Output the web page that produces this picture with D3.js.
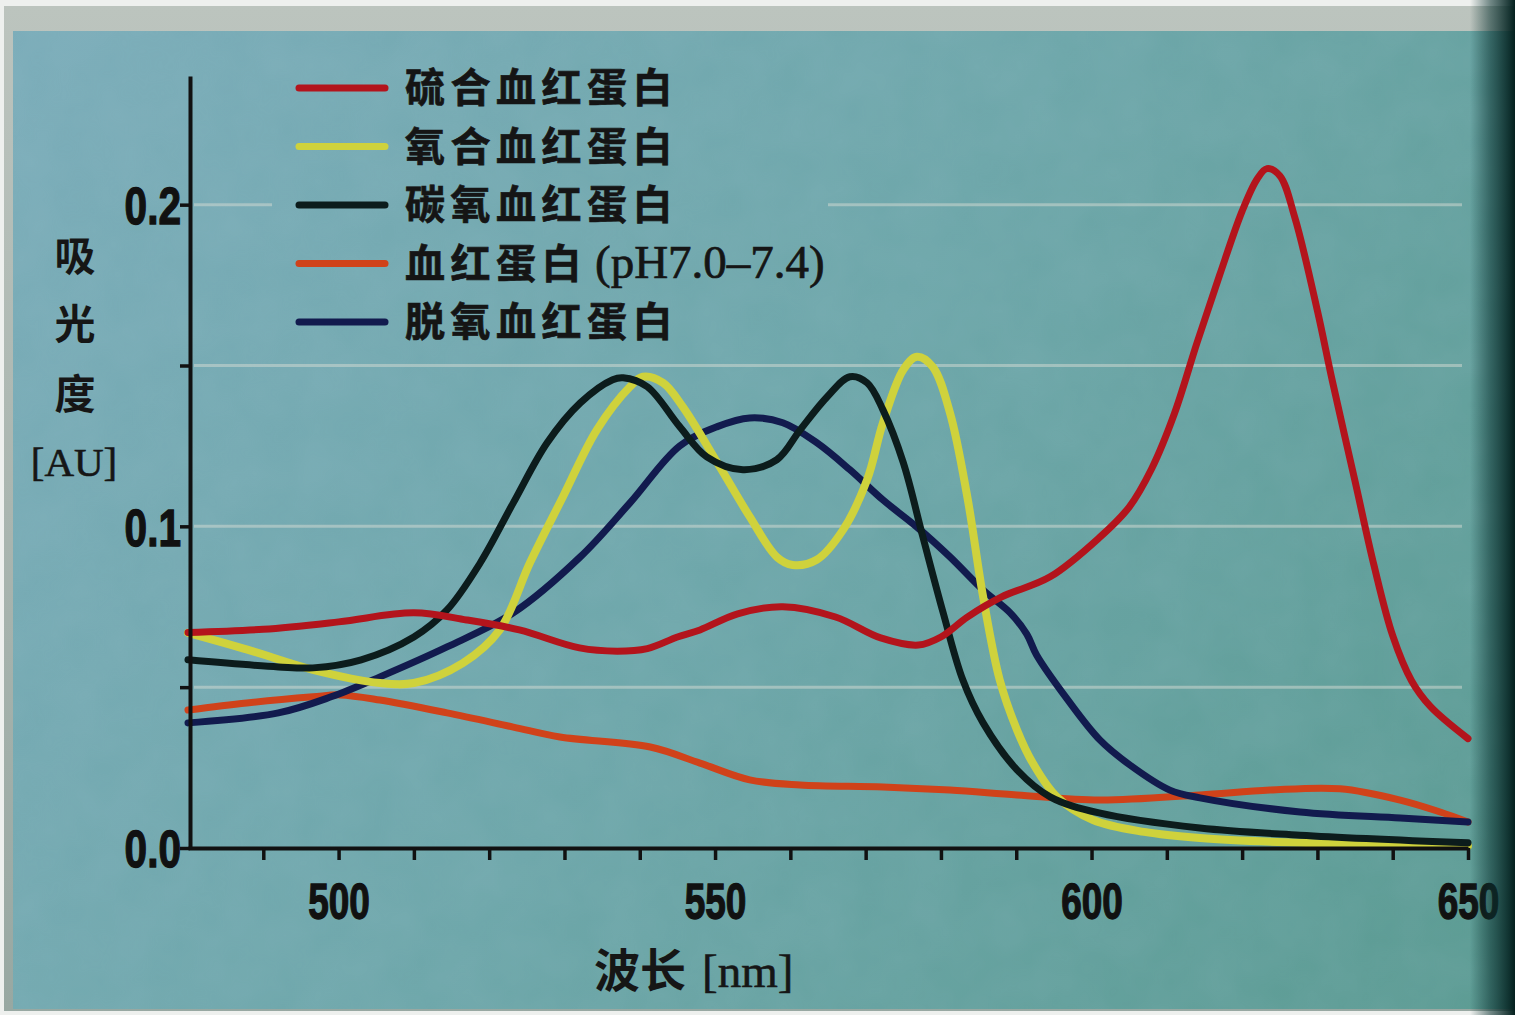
<!DOCTYPE html>
<html>
<head>
<meta charset="utf-8">
<script src="https://cdn.jsdelivr.net/npm/d3@7"></script>
<style>
  body { margin: 0; background: #eef0ee; }
  svg { display: block; }
</style>
</head>
<body>
<svg id="chart" width="1515" height="1015"></svg>
<script>
// Absorption spectra of hemoglobin species: wavelength (nm) / absorbance (AU)
const sulfNm  = [480,490,500,510,517,524,532,537,541,545,548,553,559,566,572,577,580,583.5,588,594.5,601,605,608,611,614,617,620,622,623.3,625,627,630,632,635,637.5,640,642.5,645,650];
const sulfAbs = [0.067,0.068,0.0703,0.0731,0.0709,0.0678,0.0622,0.0612,0.062,0.0656,0.0678,0.0728,0.075,0.0718,0.0653,0.0631,0.0656,0.0718,0.078,0.0843,0.0964,0.106,0.118,0.135,0.157,0.178,0.198,0.208,0.2112,0.209,0.196,0.167,0.145,0.114,0.088,0.066,0.052,0.044,0.034];

const oxyNm  = [480,488,496.6,505.5,510,516.5,521.4,525.4,529.8,534.3,538.7,540.4,543.1,545.7,550.3,554.6,558.2,560.3,563.5,567,570.2,572.3,575,576.8,578.9,581.2,583.5,585.6,587.8,590.1,592.2,595.4,600.2,607,614.4,627.7,650];
const oxyAbs = [0.0669,0.0616,0.0554,0.0513,0.0513,0.0575,0.0678,0.0886,0.1092,0.130,0.1434,0.1465,0.1446,0.1372,0.1198,0.103,0.0905,0.088,0.0896,0.0989,0.1145,0.1322,0.1487,0.1527,0.1496,0.1353,0.1092,0.0781,0.0523,0.0367,0.0264,0.0159,0.0087,0.005,0.0031,0.0016,0.0006];

const coNm  = [480,492,496.6,503,510,514.4,518.8,523.2,527.7,532.1,536.4,537.8,541,545.3,548.9,553.7,558.2,561.3,564.9,567.9,570.2,572.3,575,577.6,580.3,582.9,585.6,590.1,594.5,601,614.4,627.7,650];
const coAbs = [0.0585,0.0563,0.056,0.0585,0.0656,0.074,0.0886,0.1073,0.126,0.1384,0.1456,0.1462,0.1434,0.131,0.1216,0.1176,0.1207,0.130,0.1403,0.1465,0.1446,0.1362,0.1198,0.0967,0.0731,0.0523,0.0389,0.0243,0.0159,0.0109,0.0062,0.004,0.0016];

const hbNm  = [480,487.8,496.6,500.2,505.5,514.4,523.2,529.4,541.4,548,554.6,561.3,572.3,581.2,590.1,601.1,614.4,623.7,633,641,646.3,650];
const hbAbs = [0.0429,0.0451,0.047,0.0476,0.046,0.042,0.0376,0.0345,0.0314,0.0264,0.0212,0.0196,0.019,0.018,0.0165,0.0149,0.0165,0.018,0.0184,0.0149,0.0112,0.0081];

const deoxyNm  = [480,492,499,505.5,514.4,523.2,532.1,538.7,545.3,550.3,554.6,559,563.5,567.9,572.3,576.8,581.2,585.6,589.2,591.4,592.7,596.7,601.1,605.1,610.4,614.4,627.7,641,650];
const deoxyAbs = [0.0389,0.042,0.047,0.0532,0.0625,0.0731,0.0905,0.1073,0.125,0.131,0.1337,0.1322,0.126,0.1176,0.1082,0.0998,0.0905,0.0802,0.0731,0.0665,0.060,0.0465,0.0336,0.0258,0.018,0.0156,0.0112,0.0093,0.0081];

// Legend entries (top to bottom)
const legendNames  = ["硫合血红蛋白", "氧合血红蛋白", "碳氧血红蛋白", "血红蛋白", "脱氧血红蛋白"];
const legendSuffix = ["", "", "", "(pH7.0–7.4)", ""];
const seriesColors = ["#b3141c", "#cfd23c", "#0c1c1c", "#d0421a", "#121b4e"];

// Axis ticks
const xTickValues = [490, 500, 510, 520, 530, 540, 550, 560, 570, 580, 590, 600, 610, 620, 630, 640, 650];
const xTickLabels = [500, 550, 600, 650];
const yTickValues = [0, 0.05, 0.1, 0.15, 0.2];
const yTickLabels = [0, 0.1, 0.2];
const gridValues  = [0.05, 0.1, 0.15, 0.2];

const W = 1515, H = 1015;
const svg = d3.select("#chart");

const x = d3.scaleLinear().domain([480, 650]).range([188, 1468]);
const y = d3.scaleLinear().domain([0, 0.24]).range([848, 76]);

// ---- paper background ----
const defs = svg.append("defs");
const bg = defs.append("linearGradient").attr("id", "paper")
  .attr("gradientUnits", "userSpaceOnUse")
  .attr("x1", 0).attr("y1", 0).attr("x2", W).attr("y2", H);
bg.append("stop").attr("offset", 0).attr("stop-color", "#7cadba");
bg.append("stop").attr("offset", 0.5).attr("stop-color", "#6ea7aa");
bg.append("stop").attr("offset", 1).attr("stop-color", "#5b9b92");

const shade = defs.append("linearGradient").attr("id", "edge")
  .attr("x1", 0).attr("y1", 0).attr("x2", 1).attr("y2", 0);
shade.append("stop").attr("offset", 0).attr("stop-color", "#0b3331").attr("stop-opacity", 0);
shade.append("stop").attr("offset", 0.45).attr("stop-color", "#0b3331").attr("stop-opacity", 0.55);
shade.append("stop").attr("offset", 1).attr("stop-color", "#04201e").attr("stop-opacity", 1);

const frame = defs.append("linearGradient").attr("id", "frame")
  .attr("x1", 0).attr("y1", 0).attr("x2", 0).attr("y2", 1);
frame.append("stop").attr("offset", 0).attr("stop-color", "#bcc4be");
frame.append("stop").attr("offset", 1).attr("stop-color", "#98a8a2");

const grain = defs.append("filter").attr("id", "grain")
  .attr("x", 0).attr("y", 0).attr("width", "100%").attr("height", "100%");
grain.append("feTurbulence").attr("type", "fractalNoise")
  .attr("baseFrequency", "0.02").attr("numOctaves", 3).attr("seed", 7);
grain.append("feColorMatrix").attr("type", "matrix")
  .attr("values", "0 0 0 0 0.45  0 0 0 0 0.62  0 0 0 0 0.72  0 0 0 0.35 -0.05");

svg.append("rect").attr("x", 4).attr("y", 6).attr("width", W - 4).attr("height", H - 10)
  .attr("fill", "url(#frame)");
svg.append("rect").attr("x", 13).attr("y", 31).attr("width", W - 13).attr("height", H - 37)
  .attr("fill", "url(#paper)");
svg.append("rect").attr("x", 13).attr("y", 31).attr("width", W - 13).attr("height", H - 37)
  .attr("filter", "url(#grain)").attr("opacity", 0.35);

// ---- grid lines ----
svg.append("g").selectAll("line").data(gridValues).join("line")
  .attr("x1", x(480) + 6).attr("x2", x(650) - 6)
  .attr("y1", d => y(d)).attr("y2", d => y(d))
  .attr("stroke", "#d6dcd4").attr("stroke-opacity", 0.5).attr("stroke-width", 3);

// ---- spectra ----
const line = d3.line().x(d => x(d[0])).y(d => y(d[1])).curve(d3.curveCatmullRom.alpha(0.5));
const series = [
  { nm: hbNm,    abs: hbAbs,    color: seriesColors[3], w: 7 },
  { nm: deoxyNm, abs: deoxyAbs, color: seriesColors[4], w: 7 },
  { nm: oxyNm,   abs: oxyAbs,   color: seriesColors[1], w: 8 },
  { nm: coNm,    abs: coAbs,    color: seriesColors[2], w: 7 },
  { nm: sulfNm,  abs: sulfAbs,  color: seriesColors[0], w: 7 }
];
svg.append("g").selectAll("path").data(series).join("path")
  .attr("d", s => line(d3.zip(s.nm, s.abs)))
  .attr("fill", "none")
  .attr("stroke", s => s.color)
  .attr("stroke-width", s => s.w)
  .attr("stroke-linejoin", "round")
  .attr("stroke-linecap", "round");

// ---- axes ----
const numFont = "'Liberation Sans', Arial, sans-serif";

const xAxis = svg.append("g").attr("transform", `translate(0,${y(0)})`)
  .call(d3.axisBottom(x).tickValues(xTickValues).tickSize(12).tickSizeOuter(0)
    .tickFormat(d => xTickLabels.includes(d) ? String(d) : ""));
xAxis.select(".domain").attr("stroke", "#111").attr("stroke-width", 4);
xAxis.selectAll(".tick line").attr("stroke", "#111").attr("stroke-width", 3.5);
xAxis.selectAll(".tick text")
  .attr("y", 0).attr("dy", 0)
  .attr("transform", "translate(0,71) scale(0.74,1)")
  .attr("fill", "#111").attr("stroke", "#111").attr("stroke-width", 1.3)
  .style("font-family", numFont).style("font-weight", 700).style("font-size", "50px")
  .attr("text-anchor", "middle");

const yAxis = svg.append("g").attr("transform", `translate(${x(480) + 2},0)`)
  .call(d3.axisLeft(y).tickValues(yTickValues).tickSize(10).tickSizeOuter(0)
    .tickFormat(d => yTickLabels.includes(d) ? d.toFixed(1) : ""));
yAxis.select(".domain").attr("stroke", "#111").attr("stroke-width", 4);
yAxis.selectAll(".tick line").attr("stroke", "#111").attr("stroke-width", 3.5);
yAxis.selectAll(".tick text")
  .attr("x", 0).attr("dy", "0.36em")
  .attr("transform", "translate(-9,0) scale(0.78,1)")
  .attr("fill", "#111").attr("stroke", "#111").attr("stroke-width", 1.3)
  .style("font-family", numFont).style("font-weight", 700).style("font-size", "52px")
  .attr("text-anchor", "end");

// ---- axis titles ----
const cjk = "'Noto Sans CJK SC', sans-serif";
const serif = "'Liberation Serif', 'DejaVu Serif', serif";

const yTitle = svg.append("g").attr("fill", "#161616");
[["吸", 255], ["光", 323], ["度", 393]].forEach(([c, cy]) => {
  yTitle.append("text").attr("x", 75).attr("y", cy).attr("dy", "0.38em")
    .attr("text-anchor", "middle")
    .style("font-family", cjk).style("font-weight", 700).style("font-size", "41px")
    .text(c);
});
yTitle.append("text").attr("x", 74).attr("y", 462).attr("dy", "0.34em")
  .attr("text-anchor", "middle").attr("stroke", "#161616").attr("stroke-width", 0.6)
  .style("font-family", serif).style("font-size", "41px")
  .text("[AU]");

const xTitle = svg.append("text").attr("x", 594).attr("y", 981).attr("dy", "0.4em")
  .attr("fill", "#161616");
xTitle.append("tspan").style("font-family", cjk).style("font-weight", 700).style("font-size", "46px")
  .text("波长");
xTitle.append("tspan").attr("dx", 16).attr("stroke", "#161616").attr("stroke-width", 0.6)
  .style("font-family", serif).style("font-size", "47px")
  .text("[nm]");

// ---- legend ----
const legend = svg.append("g");
legend.append("rect").attr("x", 272).attr("y", 56).attr("width", 556).attr("height", 298)
  .attr("fill", "url(#paper)");
legend.append("rect").attr("x", 272).attr("y", 56).attr("width", 556).attr("height", 298)
  .attr("filter", "url(#grain)").attr("opacity", 0.35);
const rows = legend.selectAll("g.row").data(legendNames).join("g")
  .attr("class", "row")
  .attr("transform", (d, i) => `translate(0,${88 + i * 58.5})`);
rows.append("line").attr("x1", 299).attr("x2", 385)
  .attr("stroke", (d, i) => seriesColors[i]).attr("stroke-width", 7)
  .attr("stroke-linecap", "round");
const labels = rows.append("text").attr("x", 405).attr("dy", "0.9em").attr("fill", "#151515");
labels.append("tspan")
  .attr("stroke", "#151515").attr("stroke-width", 0.7)
  .style("font-family", cjk).style("font-weight", 700).style("font-size", "40px")
  .style("letter-spacing", "5.5px")
  .text(d => d);
labels.append("tspan").attr("dx", 8).attr("stroke", "#151515").attr("stroke-width", 0.7)
  .style("font-family", serif).style("font-size", "47px")
  .text((d, i) => legendSuffix[i]);

// ---- darkened page edge on the right ----
svg.append("rect").attr("x", 1470).attr("y", 0).attr("width", 45).attr("height", H)
  .attr("fill", "url(#edge)");
</script>
</body>
</html>
